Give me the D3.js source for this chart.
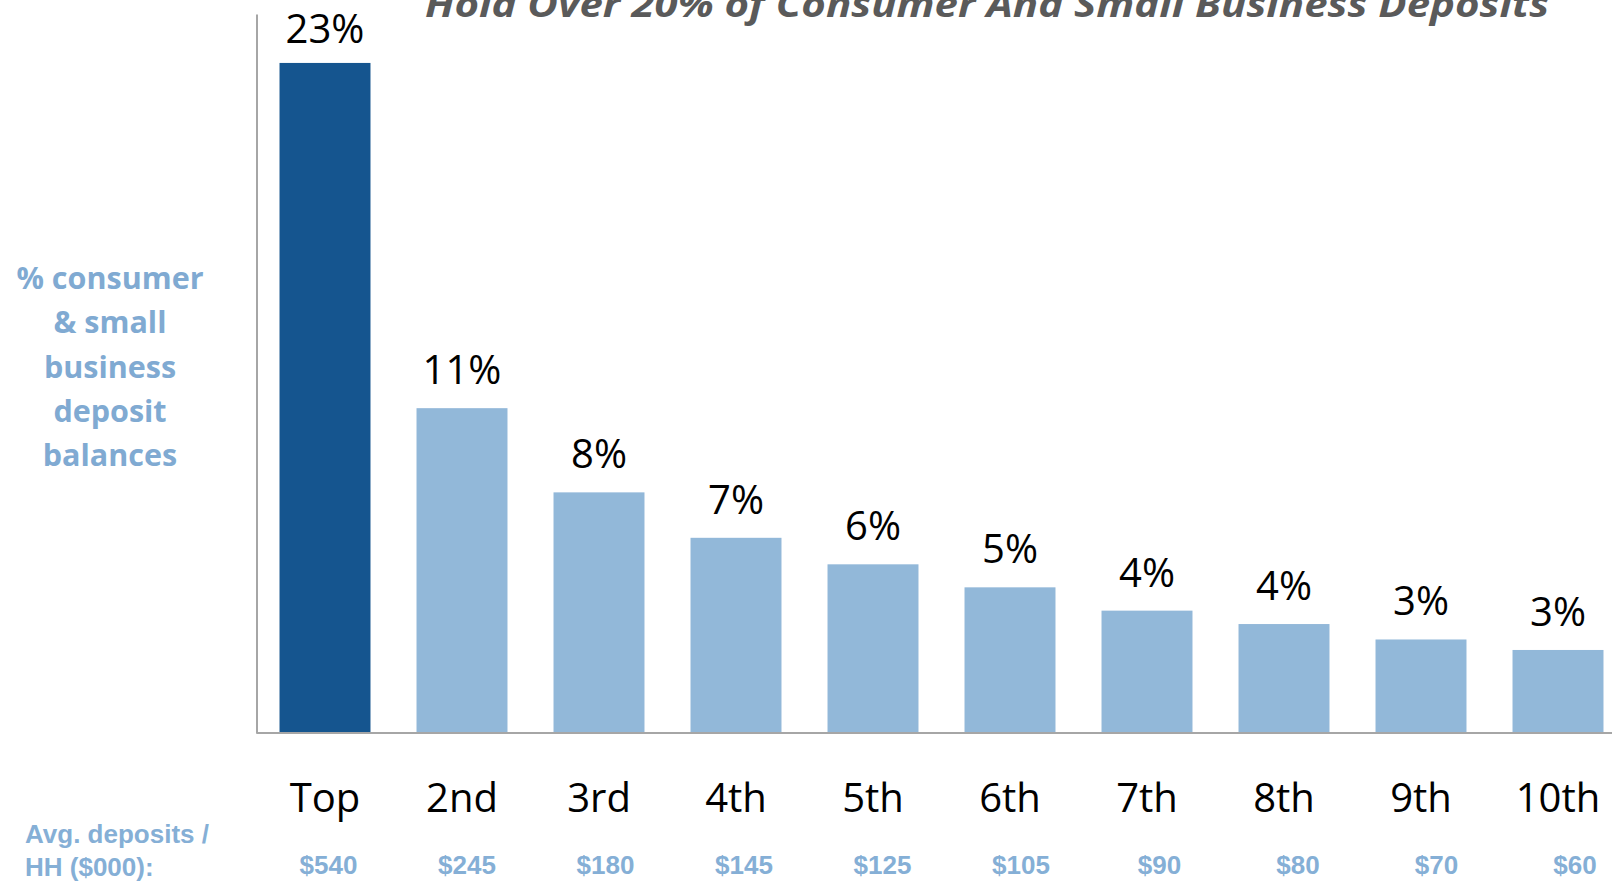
<!DOCTYPE html>
<html>
<head>
<meta charset="utf-8">
<script src="https://cdn.jsdelivr.net/npm/d3@7"></script>
<style>
  html, body { margin: 0; padding: 0; background: #fff; }
  svg { display: block; }
</style>
</head>
<body>
<svg id="chart" width="1612" height="882"></svg>
<script>
const categories = ["Top", "2nd", "3rd", "4th", "5th", "6th", "7th", "8th", "9th", "10th"];
const shareValues = [23.0, 11.15, 8.26, 6.7, 5.79, 5.0, 4.2, 3.74, 3.21, 2.85];
const valueLabels = ["23%", "11%", "8%", "7%", "6%", "5%", "4%", "4%", "3%", "3%"];
const avgDeposits = ["$540", "$245", "$180", "$145", "$125", "$105", "$90", "$80", "$70", "$60"];
const titleText = "Hold Over 20% of Consumer And Small Business Deposits";
const yTitleLines = ["% consumer", "& small", "business", "deposit", "balances"];
const rowLabelLines = ["Avg. deposits /", "HH ($000):"];

const svg = d3.select("#chart");
const x0 = 256.5, baseY = 733, topY = 14;

const x = d3.scaleBand()
  .domain(categories)
  .range([x0, x0 + 1370])
  .paddingInner(0.336)
  .paddingOuter(0.168);

// dollar row is spaced slightly wider than the bars
const xDollar = d3.scalePoint()
  .domain(categories)
  .range([328.5, 1575]);

const y = d3.scaleLinear()
  .domain([0, 24.68])
  .range([baseY, topY]);

// Title (clipped at top, as in the source)
svg.append("text")
  .attr("x", 425)
  .attr("y", 17)
  .attr("font-family", "Open Sans")
  .attr("font-style", "italic")
  .attr("font-weight", 700)
  .attr("font-size", 36)
  .attr("fill", "#5a5a5a")
  .attr("textLength", 1124)
  .attr("lengthAdjust", "spacingAndGlyphs")
  .text(titleText);

// Bars
svg.append("g").selectAll("rect")
  .data(categories)
  .join("rect")
  .attr("x", d => x(d))
  .attr("width", x.bandwidth())
  .attr("y", (d, i) => y(shareValues[i]))
  .attr("height", (d, i) => baseY - y(shareValues[i]))
  .attr("fill", (d, i) => i === 0 ? "#15558f" : "#92b8d9");

// Value labels
svg.append("g").selectAll("text")
  .data(categories)
  .join("text")
  .attr("x", d => x(d) + x.bandwidth() / 2)
  .attr("y", (d, i) => y(shareValues[i]) - (i === 0 ? 20 : 24))
  .attr("text-anchor", "middle")
  .attr("font-family", "Open Sans")
  .attr("font-size", 40)
  .attr("fill", "#000")
  .text((d, i) => valueLabels[i]);

// Axes lines
const yAxis = d3.axisLeft(y).tickValues([]).tickSizeOuter(0);
const yg = svg.append("g").attr("transform", `translate(${x0},0)`).call(yAxis);
yg.select(".domain").attr("stroke", "#a6a6a6").attr("stroke-width", 2);

const xAxis = d3.axisBottom(x).tickSize(0).tickPadding(48).tickSizeOuter(0);
const xg = svg.append("g").attr("transform", `translate(0,${baseY})`).call(xAxis);
xg.select(".domain").attr("stroke", "#a6a6a6").attr("stroke-width", 2)
  .attr("d", `M${x0},0H1612`);
xg.selectAll(".tick text")
  .attr("font-family", "Open Sans")
  .attr("font-size", 40)
  .attr("fill", "#000")
  .attr("dy", null)
  .attr("y", 79);

// Avg deposits row
svg.append("g").selectAll("text")
  .data(categories)
  .join("text")
  .attr("x", d => xDollar(d))
  .attr("y", 874)
  .attr("text-anchor", "middle")
  .attr("font-family", "Liberation Sans, Arial")
  .attr("font-weight", 700)
  .attr("font-size", 26)
  .attr("fill", "#85afd6")
  .text((d, i) => avgDeposits[i]);

svg.append("g").selectAll("text")
  .data(rowLabelLines)
  .join("text")
  .attr("x", 25)
  .attr("y", (d, i) => 843 + i * 33)
  .attr("font-family", "Liberation Sans, Arial")
  .attr("font-weight", 700)
  .attr("font-size", 26)
  .attr("fill", "#85afd6")
  .text(d => d);

// Y title
svg.append("g").selectAll("text")
  .data(yTitleLines)
  .join("text")
  .attr("x", 110)
  .attr("y", (d, i) => 289 + i * 44.3)
  .attr("text-anchor", "middle")
  .attr("font-family", "Open Sans")
  .attr("font-weight", 700)
  .attr("font-size", 30.5)
  .attr("fill", "#80aad2")
  .text(d => d);
</script>
</body>
</html>
